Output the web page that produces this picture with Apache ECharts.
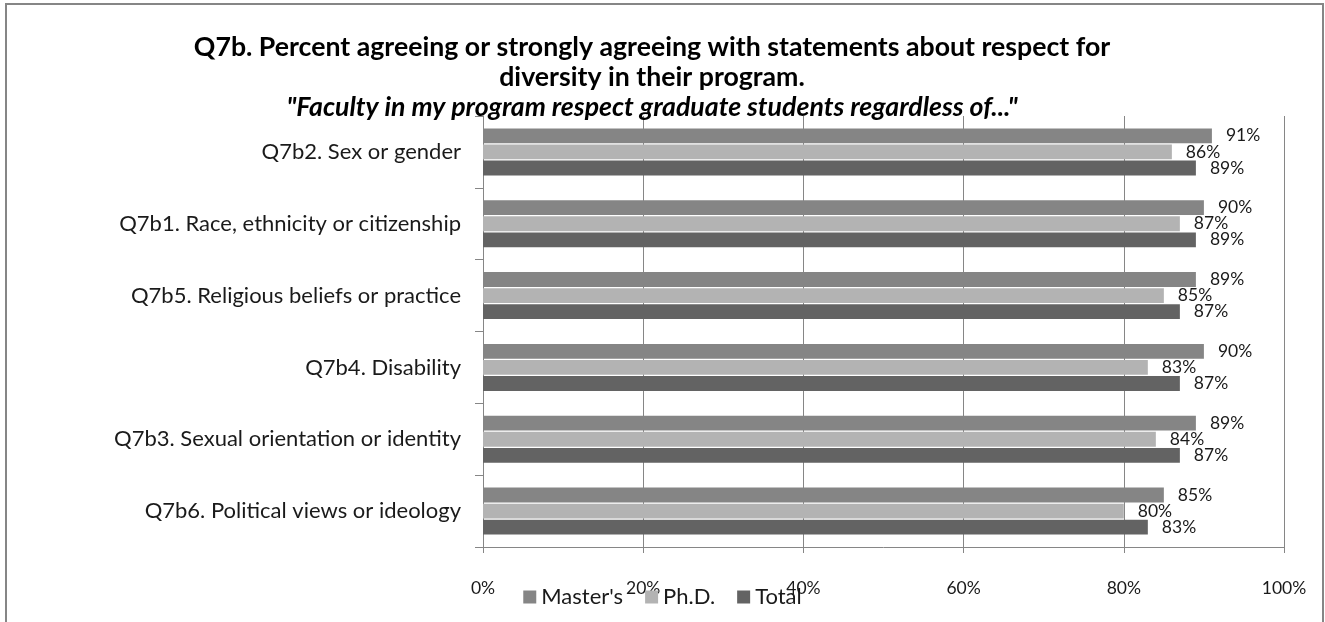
<!DOCTYPE html>
<html>
<head>
<meta charset="utf-8">
<script src="https://cdn.jsdelivr.net/npm/echarts@6/dist/echarts.min.js"></script>
<style>
  html, body { margin: 0; padding: 0; background: #ffffff; }
  #chart { width: 1325px; height: 622px; }
</style>
</head>
<body>
<div id="chart"></div>
<script>
// Survey items, listed top to bottom
const categories = [
  'Q7b2. Sex or gender',
  'Q7b1. Race, ethnicity or citizenship',
  'Q7b5. Religious beliefs or practice',
  'Q7b4. Disability',
  'Q7b3. Sexual orientation or identity',
  'Q7b6. Political views or ideology'
];
// Percent agreeing or strongly agreeing
const mastersValues = [91, 90, 89, 90, 89, 85];
const phdValues     = [86, 87, 85, 83, 84, 80];
const totalValues   = [89, 89, 87, 87, 87, 83];
const seriesNames = ["Master's", 'Ph.D.', 'Total'];
const seriesColors = ['#858585', '#b3b3b3', '#636363'];
const axisTicks = [0, 20, 40, 60, 80, 100];

const FONT = 'Lato, "Open Sans", sans-serif';
const chart = echarts.init(document.getElementById('chart'), null, { renderer: 'canvas' });

const valueLists = [mastersValues, phdValues, totalValues];
const series = valueLists.map((vals, i) => ({
  name: seriesNames[i],
  type: 'bar',
  data: vals,
  barGap: '8%',
  barCategoryGap: '34.5%',
  itemStyle: { color: seriesColors[i] },
  label: {
    show: true,
    position: 'right',
    distance: 14,
    formatter: p => p.value + '%',
    color: '#1a1a1a',
    fontFamily: FONT,
    fontSize: 17.5
  },
  emphasis: { disabled: true },
  animation: false
}));

chart.setOption({
  animation: false,
  backgroundColor: '#ffffff',
  title: {
    left: 652,
    top: 32,
    padding: 0,
    textAlign: 'center',
    text: '{a|Q7b. Percent agreeing or strongly agreeing with statements about respect for}\n' +
          '{a|diversity in their program.}\n' +
          '{b|"Faculty in my program respect graduate students regardless of..."}',
    textStyle: {
      rich: {
        a: { fontFamily: FONT, fontWeight: 'bold', fontSize: 26.7, color: '#000', lineHeight: 30 },
        b: { fontFamily: FONT, fontWeight: 'bold', fontStyle: 'italic', fontSize: 26.7, color: '#000', lineHeight: 30 }
      }
    }
  },
  legend: {
    data: seriesNames,
    left: 'center',
    top: 581,
    itemWidth: 13,
    itemHeight: 13,
    itemGap: 22,
    icon: 'rect',
    textStyle: { fontFamily: FONT, fontSize: 22, color: '#1a1a1a' }
  },
  grid: { left: 483, right: 41, top: 116, bottom: 75, containLabel: false },
  xAxis: {
    type: 'value',
    min: axisTicks[0],
    max: axisTicks[axisTicks.length - 1],
    interval: axisTicks[1] - axisTicks[0],
    axisLine: { show: true, lineStyle: { color: '#868686', width: 1 } },
    axisTick: { show: true, length: 6, lineStyle: { color: '#868686' } },
    splitLine: { show: true, lineStyle: { color: '#868686', width: 1 } },
    axisLabel: {
      margin: 32,
      formatter: v => v + '%',
      fontFamily: FONT,
      fontSize: 17.5,
      color: '#1a1a1a'
    }
  },
  yAxis: {
    type: 'category',
    data: categories,
    inverse: true,
    axisLine: { show: true, lineStyle: { color: '#868686', width: 1 } },
    axisTick: { show: true, length: 8, lineStyle: { color: '#868686' } },
    axisLabel: {
      margin: 22,
      fontFamily: FONT,
      fontSize: 22,
      color: '#1a1a1a'
    }
  },
  graphic: [{
    type: 'rect',
    silent: true,
    z: 100,
    shape: { x: 6, y: 4, width: 1317, height: 630 },
    style: { fill: null, stroke: '#868686', lineWidth: 2 }
  }],
  series: series
});
</script>
</body>
</html>
